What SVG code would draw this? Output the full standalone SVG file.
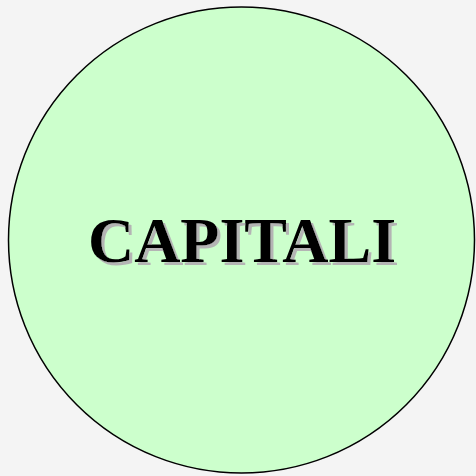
<svg xmlns="http://www.w3.org/2000/svg" width="476" height="476" viewBox="0 0 476 476">
<style>
.lbl{font-family:"Liberation Serif","Times New Roman",serif;font-weight:bold;font-size:64px;text-anchor:middle}
</style>
<defs>
<filter id="sh" x="-10%" y="-20%" width="120%" height="150%">
<feFlood flood-color="#b4b4b4"/>
<feComposite in2="SourceAlpha" operator="in"/>
<feOffset dx="3" dy="3" result="s"/>
<feMerge><feMergeNode in="s"/><feMergeNode in="SourceGraphic"/></feMerge>
</filter>
</defs>
<rect width="476" height="476" fill="#f4f4f4"/>
<g id="capitali">
<circle cx="241.5" cy="240" r="233" fill="#ccffcc" stroke="#000" stroke-width="1.5"/>
<text class="lbl" x="242" y="262" fill="#000" filter="url(#sh)">CAPITALI</text>
</g>
</svg>
